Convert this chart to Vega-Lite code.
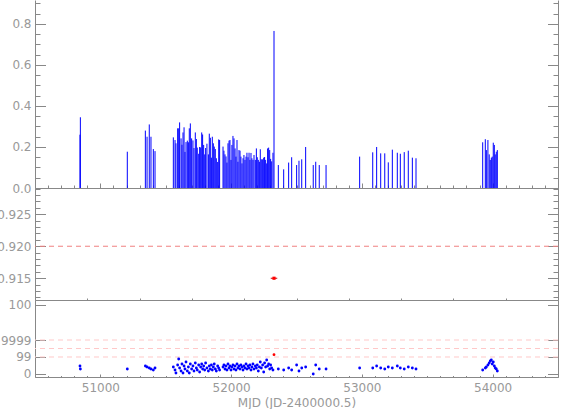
{
  "$schema": "https://vega.github.io/schema/vega-lite/v6.json",
  "autosize": {"type": "pad"},
  "padding": {"left": -4, "top": -3, "right": 0, "bottom": 0},
  "bounds": "flush",
  "spacing": 0,
  "background": "white",
  "config": {
    "view": {"stroke": null},
    "axis": {"domainColor": "#888", "tickColor": "#888", "labelColor": "#999", "labelFont": "DejaVu Sans", "labelFontSize": 12, "titleFont": "DejaVu Sans", "titleFontSize": 12, "titleColor": "#999", "titleFontWeight": "normal", "grid": false, "labelFlush": false, "labelOverlap": false}
  },
  "datasets": {
    "obs": [
      {"mjd":50844,"amp":0.26,"lvl":-1.059},{"mjd":50847,"amp":0.345,"lvl":-1.412},{"mjd":51206,"amp":0.177,"lvl":-1.412},
      {"mjd":51344,"amp":0.28,"lvl":-1.059},{"mjd":51357,"amp":0.25,"lvl":-1.176},{"mjd":51374,"amp":0.31,"lvl":-1.294},
      {"mjd":51387,"amp":0.25,"lvl":-1.412},{"mjd":51405,"amp":0.19,"lvl":-1.529},{"mjd":51418,"amp":0.18,"lvl":-1.294},
      {"mjd":51558,"amp":0.247,"lvl":-1.176},{"mjd":51571,"amp":0.234,"lvl":-1.529},{"mjd":51578,"amp":0.218,"lvl":-1.882},
      {"mjd":51591,"amp":0.291,"lvl":-0.941},{"mjd":51599,"amp":0.291,"lvl":-0.235},{"mjd":51606,"amp":0.32,"lvl":-1.294},
      {"mjd":51617,"amp":0.242,"lvl":-1.647},{"mjd":51624,"amp":0.211,"lvl":-0.824},{"mjd":51632,"amp":0.271,"lvl":-1.882},
      {"mjd":51640,"amp":0.296,"lvl":-1.059},{"mjd":51647,"amp":0.176,"lvl":-1.412},{"mjd":51655,"amp":0.224,"lvl":-0.588},
      {"mjd":51665,"amp":0.231,"lvl":-1.647},{"mjd":51673,"amp":0.223,"lvl":-1.176},{"mjd":51680,"amp":0.291,"lvl":-1.882},
      {"mjd":51688,"amp":0.315,"lvl":-0.824},{"mjd":51698,"amp":0.242,"lvl":-1.412},{"mjd":51708,"amp":0.232,"lvl":-1.059},
      {"mjd":51716,"amp":0.195,"lvl":-1.647},{"mjd":51726,"amp":0.271,"lvl":-0.706},{"mjd":51734,"amp":0.239,"lvl":-1.294},
      {"mjd":51741,"amp":0.197,"lvl":-1.529},{"mjd":51752,"amp":0.167,"lvl":-0.941},{"mjd":51759,"amp":0.2,"lvl":-1.765},
      {"mjd":51767,"amp":0.198,"lvl":-1.176},{"mjd":51775,"amp":0.271,"lvl":-0.824},{"mjd":51782,"amp":0.261,"lvl":-1.412},
      {"mjd":51790,"amp":0.21,"lvl":-1.059},{"mjd":51798,"amp":0.164,"lvl":-1.529},{"mjd":51805,"amp":0.195,"lvl":-0.706},
      {"mjd":51815,"amp":0.216,"lvl":-1.294},{"mjd":51826,"amp":0.164,"lvl":-1.647},{"mjd":51833,"amp":0.265,"lvl":-1.059},
      {"mjd":51841,"amp":0.245,"lvl":-1.412},{"mjd":51849,"amp":0.148,"lvl":-0.941},{"mjd":51856,"amp":0.25,"lvl":-1.529},
      {"mjd":51864,"amp":0.218,"lvl":-1.176},{"mjd":51871,"amp":0.202,"lvl":-0.824},{"mjd":51879,"amp":0.19,"lvl":-1.412},
      {"mjd":51887,"amp":0.145,"lvl":-1.647},{"mjd":51897,"amp":0.127,"lvl":-1.059},{"mjd":51905,"amp":0.237,"lvl":-1.294},
      {"mjd":51912,"amp":0.234,"lvl":-1.529},{"mjd":51938,"amp":0.202,"lvl":-1.176},{"mjd":51945,"amp":0.182,"lvl":-0.941},
      {"mjd":51953,"amp":0.164,"lvl":-1.412},{"mjd":51961,"amp":0.154,"lvl":-1.059},{"mjd":51968,"amp":0.124,"lvl":-1.529},
      {"mjd":51976,"amp":0.218,"lvl":-0.824},{"mjd":51984,"amp":0.231,"lvl":-1.294},{"mjd":51991,"amp":0.234,"lvl":-1.059},
      {"mjd":51999,"amp":0.137,"lvl":-1.529},{"mjd":52006,"amp":0.21,"lvl":-1.176},{"mjd":52014,"amp":0.254,"lvl":-0.941},
      {"mjd":52022,"amp":0.242,"lvl":-1.412},{"mjd":52030,"amp":0.193,"lvl":-1.059},{"mjd":52037,"amp":0.153,"lvl":-1.529},
      {"mjd":52045,"amp":0.234,"lvl":-0.824},{"mjd":52052,"amp":0.128,"lvl":-1.294},{"mjd":52060,"amp":0.185,"lvl":-1.059},
      {"mjd":52068,"amp":0.182,"lvl":-1.412},{"mjd":52075,"amp":0.153,"lvl":-0.941},{"mjd":52083,"amp":0.12,"lvl":-1.176},
      {"mjd":52091,"amp":0.145,"lvl":-1.529},{"mjd":52098,"amp":0.161,"lvl":-1.059},{"mjd":52106,"amp":0.137,"lvl":-1.294},
      {"mjd":52114,"amp":0.153,"lvl":-0.824},{"mjd":52121,"amp":0.172,"lvl":-1.412},{"mjd":52129,"amp":0.15,"lvl":-1.059},
      {"mjd":52137,"amp":0.172,"lvl":-1.294},{"mjd":52144,"amp":0.137,"lvl":-0.941},{"mjd":52152,"amp":0.171,"lvl":-1.529},
      {"mjd":52159,"amp":0.145,"lvl":-1.176},{"mjd":52167,"amp":0.137,"lvl":-0.824},{"mjd":52175,"amp":0.161,"lvl":-1.412},
      {"mjd":52185,"amp":0.137,"lvl":-1.059},{"mjd":52193,"amp":0.193,"lvl":-1.294},{"mjd":52200,"amp":0.15,"lvl":-0.941},
      {"mjd":52208,"amp":0.137,"lvl":-1.647},{"mjd":52216,"amp":0.128,"lvl":-1.176},{"mjd":52223,"amp":0.189,"lvl":-0.588},
      {"mjd":52231,"amp":0.14,"lvl":-1.294},{"mjd":52241,"amp":0.14,"lvl":-0.941},{"mjd":52249,"amp":0.148,"lvl":-1.765},
      {"mjd":52256,"amp":0.151,"lvl":-0.706},{"mjd":52264,"amp":0.137,"lvl":-1.176},{"mjd":52272,"amp":0.12,"lvl":-0.353},
      {"mjd":52279,"amp":0.193,"lvl":-1.059},{"mjd":52287,"amp":0.197,"lvl":-0.824},{"mjd":52295,"amp":0.185,"lvl":-1.412},
      {"mjd":52302,"amp":0.142,"lvl":-0.941},{"mjd":52310,"amp":0.13,"lvl":-1.294},{"mjd":52320,"amp":0.172,"lvl":-1.529},
      {"mjd":52361,"amp":0.112,"lvl":-1.412},{"mjd":52402,"amp":0.091,"lvl":-1.529},{"mjd":52440,"amp":0.124,"lvl":-1.294},
      {"mjd":52463,"amp":0.15,"lvl":-1.529},{"mjd":52501,"amp":0.112,"lvl":-0.941},{"mjd":52519,"amp":0.133,"lvl":-1.647},
      {"mjd":52540,"amp":0.14,"lvl":-1.294},{"mjd":52570,"amp":0.2,"lvl":-1.176},{"mjd":52628,"amp":0.112,"lvl":-2.0},
      {"mjd":52647,"amp":0.128,"lvl":-0.941},{"mjd":52674,"amp":0.112,"lvl":-1.412},{"mjd":52726,"amp":0.112,"lvl":-1.412},
      {"mjd":52983,"amp":0.153,"lvl":-1.294},{"mjd":53083,"amp":0.174,"lvl":-1.294},{"mjd":53113,"amp":0.2,"lvl":-1.059},
      {"mjd":53144,"amp":0.169,"lvl":-1.294},{"mjd":53175,"amp":0.169,"lvl":-1.412},{"mjd":53202,"amp":0.125,"lvl":-1.176},
      {"mjd":53233,"amp":0.187,"lvl":-1.294},{"mjd":53271,"amp":0.172,"lvl":-1.059},{"mjd":53294,"amp":0.167,"lvl":-1.294},
      {"mjd":53324,"amp":0.175,"lvl":-1.412},{"mjd":53355,"amp":0.182,"lvl":-1.176},{"mjd":53386,"amp":0.148,"lvl":-1.294},
      {"mjd":53414,"amp":0.145,"lvl":-1.412},{"mjd":53924,"amp":0.223,"lvl":-1.529},{"mjd":53944,"amp":0.238,"lvl":-1.294},
      {"mjd":53952,"amp":0.185,"lvl":-1.176},{"mjd":53964,"amp":0.234,"lvl":-0.941},{"mjd":53974,"amp":0.164,"lvl":-0.706},
      {"mjd":53982,"amp":0.137,"lvl":-0.471},{"mjd":53990,"amp":0.148,"lvl":-0.353},{"mjd":53997,"amp":0.153,"lvl":-0.824},
      {"mjd":54005,"amp":0.221,"lvl":-0.588},{"mjd":54013,"amp":0.21,"lvl":-1.059},{"mjd":54020,"amp":0.164,"lvl":-1.294},
      {"mjd":54028,"amp":0.177,"lvl":-1.412},{"mjd":54036,"amp":0.185,"lvl":-1.647}
    ],
    "flag": [{"mjd":52328,"amp":0.766,"val":0.915,"lo":52303,"hi":52353,"lvl":0.27}],
    "mref": [{"v":0.92}],
    "bref": [{"t":0},{"t":1},{"t":2}]
  },
  "vconcat": [
    {
      "width": 523, "height": 188,
      "encoding": {
        "x": {"field": "mjd", "type": "quantitative", "scale": {"domain": [50500, 54500], "nice": false, "zero": false},
          "axis": {"orient": "bottom", "title": null, "labels": false, "values": [50500,50600,50700,50800,50900,51000,51100,51200,51300,51400,51500,51600,51700,51800,51900,52000,52100,52200,52300,52400,52500,52600,52700,52800,52900,53000,53100,53200,53300,53400,53500,53600,53700,53800,53900,54000,54100,54200,54300,54400,54500],
            "tickSize": {"condition": {"test": "datum.value % 1000 == 0", "value": -5}, "value": -3}}}
      },
      "layer": [
        {"data": {"name": "obs"}, "mark": {"type": "rule", "color": "#0000ff", "strokeWidth": 1},
          "encoding": {"y": {"field": "amp", "type": "quantitative", "scale": {"domain": [0, 0.917], "nice": false},
            "axis": {"orient": "left", "title": null, "values": [0,0.05,0.1,0.15,0.2,0.25,0.3,0.35,0.4,0.45,0.5,0.55,0.6,0.65,0.7,0.75,0.8,0.85,0.9],
              "labelExpr": "round(datum.value*100) % 20 == 0 ? format(datum.value, '.1f') : ''",
              "tickSize": {"condition": {"test": "round(datum.value*100) % 20 == 0", "value": -10.5}, "value": -5}, "labelPadding": 14.5}},
            "y2": {"datum": 0}}},
        {"data": {"name": "flag"}, "mark": {"type": "rule", "color": "#0000ff", "strokeWidth": 1},
          "encoding": {"y": {"field": "amp", "type": "quantitative", "scale": {"domain": [0, 0.917], "nice": false},
            "axis": {"orient": "right", "title": null, "labels": false, "values": [0,0.05,0.1,0.15,0.2,0.25,0.3,0.35,0.4,0.45,0.5,0.55,0.6,0.65,0.7,0.75,0.8,0.85,0.9],
              "tickSize": {"condition": {"test": "round(datum.value*100) % 20 == 0", "value": -10.5}, "value": -5}}},
            "y2": {"datum": 0}}}
      ],
      "resolve": {"scale": {"y": "shared"}, "axis": {"y": "independent"}}
    },
    {
      "width": 523, "height": 112,
      "layer": [
        {"data": {"name": "mref"}, "mark": {"type": "rule", "color": "#f08080", "strokeDash": [5, 4], "strokeWidth": 1},
          "encoding": {"y": {"field": "v", "type": "quantitative", "scale": {"domain": [0.9116, 0.9291], "nice": false, "zero": false},
            "axis": {"orient": "left", "title": null, "values": [0.912,0.913,0.914,0.915,0.916,0.917,0.918,0.919,0.92,0.921,0.922,0.923,0.924,0.925,0.926,0.927,0.928,0.929],
              "labelExpr": "round(datum.value*1000) % 5 == 0 ? format(datum.value, '.3f') : ''",
              "tickSize": {"condition": {"test": "round(datum.value*1000) % 5 == 0", "value": -10.5}, "value": -5}, "labelPadding": 14.5}}}},
        {"data": {"name": "flag"}, "mark": {"type": "rule", "color": "#cc0000", "strokeWidth": 1},
          "encoding": {
            "x": {"field": "lo", "type": "quantitative", "scale": {"domain": [50500, 54500], "nice": false, "zero": false},
              "axis": {"orient": "bottom", "title": null, "labels": false, "values": [50500,50600,50700,50800,50900,51000,51100,51200,51300,51400,51500,51600,51700,51800,51900,52000,52100,52200,52300,52400,52500,52600,52700,52800,52900,53000,53100,53200,53300,53400,53500,53600,53700,53800,53900,54000,54100,54200,54300,54400,54500],
                "tickSize": {"condition": {"test": "datum.value % 1000 == 0", "value": -4}, "value": -2}}},
            "x2": {"field": "hi"},
            "y": {"field": "val", "type": "quantitative", "scale": {"domain": [0.9116, 0.9291], "nice": false, "zero": false},
              "axis": {"orient": "right", "title": null, "labels": false, "values": [0.912,0.913,0.914,0.915,0.916,0.917,0.918,0.919,0.92,0.921,0.922,0.923,0.924,0.925,0.926,0.927,0.928,0.929],
                "tickSize": {"condition": {"test": "round(datum.value*1000) % 5 == 0", "value": -10.5}, "value": -5}}}}},
        {"data": {"name": "flag"}, "mark": {"type": "square", "color": "#ff0000", "filled": true, "size": 10, "opacity": 1},
          "encoding": {
            "x": {"field": "mjd", "type": "quantitative"},
            "y": {"field": "val", "type": "quantitative", "axis": null}}}
      ],
      "resolve": {"scale": {"y": "shared"}, "axis": {"y": "independent"}}
    },
    {
      "width": 523, "height": 77,
      "layer": [
        {"data": {"name": "bref"}, "mark": {"type": "rule", "color": "#ffc8c8", "strokeDash": [5, 4], "strokeWidth": 1},
          "encoding": {"y": {"field": "t", "type": "quantitative", "scale": {"domain": [-2.353, 6.706], "nice": false, "zero": false},
            "axis": {"orient": "left", "title": null, "values": [-2, 0, 2, 6.12],
              "labelExpr": "datum.value == -2 ? '0' : datum.value == 0 ? '99' : datum.value == 2 ? '9999' : '100'",
              "tickSize": -10.5, "labelPadding": 14.5}}}},
        {"data": {"name": "obs"}, "mark": {"type": "circle", "color": "#0000ff", "size": 8, "opacity": 1},
          "encoding": {
            "x": {"field": "mjd", "type": "quantitative", "scale": {"domain": [50500, 54500], "nice": false, "zero": false},
              "axis": {"orient": "bottom", "title": "MJD (JD-2400000.5)", "titlePadding": 3, "format": "d", "values": [50500,50600,50700,50800,50900,51000,51100,51200,51300,51400,51500,51600,51700,51800,51900,52000,52100,52200,52300,52400,52500,52600,52700,52800,52900,53000,53100,53200,53300,53400,53500,53600,53700,53800,53900,54000,54100,54200,54300,54400,54500],
                "labelExpr": "(round(datum.value) % 1000) == 0 ? datum.label : ''",
                "tickSize": {"condition": {"test": "datum.value % 1000 == 0", "value": -3}, "value": -1.5}, "labelPadding": 8}},
            "y": {"field": "lvl", "type": "quantitative", "scale": {"domain": [-2.353, 6.706], "nice": false, "zero": false},
              "axis": {"orient": "right", "title": null, "labels": false, "values": [-2, 0, 2, 6.12], "tickSize": -10.5}}}},
        {"data": {"name": "flag"}, "mark": {"type": "circle", "color": "#ff0000", "size": 8, "opacity": 1},
          "encoding": {
            "x": {"field": "mjd", "type": "quantitative", "axis": {"orient": "bottom", "title": "MJD (JD-2400000.5)", "titlePadding": 3, "format": "d", "values": [50500,50600,50700,50800,50900,51000,51100,51200,51300,51400,51500,51600,51700,51800,51900,52000,52100,52200,52300,52400,52500,52600,52700,52800,52900,53000,53100,53200,53300,53400,53500,53600,53700,53800,53900,54000,54100,54200,54300,54400,54500],
                "labelExpr": "(round(datum.value) % 1000) == 0 ? datum.label : ''",
                "tickSize": {"condition": {"test": "datum.value % 1000 == 0", "value": -3}, "value": -1.5}, "labelPadding": 8}},
            "y": {"field": "lvl", "type": "quantitative", "axis": null}}}
      ],
      "resolve": {"scale": {"y": "shared"}, "axis": {"y": "independent"}}
    }
  ]
}
